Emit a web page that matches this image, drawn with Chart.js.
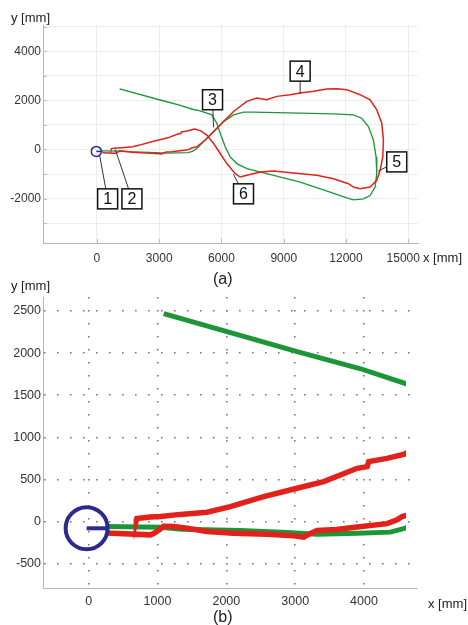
<!DOCTYPE html>
<html>
<head>
<meta charset="utf-8">
<script src="https://cdn.jsdelivr.net/npm/chart.js@4"></script>
<style>
body { margin: 0; background: #fff; font-family: "Liberation Sans", Arial, sans-serif; }
#wrap { position: relative; width: 468px; height: 625px; overflow: hidden; }
canvas { position: absolute; left: 0; }
.lbl { position: absolute; color: #222; white-space: nowrap; line-height: 1; }
</style>
</head>
<body>
<div id="wrap">
  <canvas id="grafA" style="top:0" width="468" height="270"></canvas>
  <canvas id="grafB" style="top:270px" width="468" height="355"></canvas>
  <div class="lbl" style="left:11px;top:11px;font-size:13px">y [mm]</div>
  <div class="lbl" style="left:423px;top:251px;font-size:13px">x [mm]</div>
  <div class="lbl" style="left:213px;top:271px;font-size:16px">(a)</div>
  <div class="lbl" style="left:11px;top:279px;font-size:13px">y [mm]</div>
  <div class="lbl" style="left:428px;top:597px;font-size:13px">x [mm]</div>
  <div class="lbl" style="left:213px;top:609px;font-size:16px">(b)</div>
</div>
<script>
// gemessene Bahn (rot)
const realX = [266, 896, 950, 1040, 1090, 1235, 1429, 1719, 2107, 2591, 2979, 3124, 3200, 3318, 3600, 3900, 4335, 4481, 4554, 4602,
  4815, 5216, 5618, 6099, 6581, 7223, 7704, 8186, 8667, 9309, 9791, 10433, 11075, 11557, 12038, 12680, 13162, 13483, 13724, 13804,
  13772, 13644, 13483, 13162, 12680, 12359, 12118, 11396, 10593, 9470, 8507, 7865, 7223, 6902, 6661, 6260, 5939, 5618, 5297, 4975,
  4750, 4650, 4590, 4335, 4069, 4045, 3900, 3415, 3027, 2543, 2058, 1719, 1331, 1041, 895, 700, 692];
const realY = [-137, -158, -140, -90, -55, -59, -79, -118, -138, -150, -170, -185, -150, -107, -95, -65, -25, 20, 60, 70,
  110, 383, 725, 1136, 1547, 1958, 2095, 2026, 2163, 2231, 2300, 2368, 2464, 2478, 2437, 2231, 2026, 1615, 1068, 383,
  -301, -849, -1259, -1533, -1602, -1533, -1396, -1191, -1054, -958, -876, -917, -1054, -1122, -986, -575, -164, 246, 589, 767,
  825, 830, 800, 750, 711, 652, 632, 474, 395, 296, 178, 110, 85, 60, 55, 35, 12];

// geplante Bahn (gruen)
const planX = [266, 1041, 1357, 2204, 2882, 3318, 3900, 4384, 4602, 4815, 4975, 5297, 5698, 6099, 6581, 7063, 7544, 9791, 11396, 12359,
  12760, 13081, 13322, 13450, 13483, 13403, 13162, 12840, 12359, 12038, 11235, 9791, 8186, 7223, 6741, 6420, 6179, 5939, 5778, 5537,
  4975, 4602, 3938, 3042, 1090];
const planY = [-59, -67, -91, -107, -130, -150, -138, -126, -79, 40, 178, 452, 794, 1136, 1410, 1520, 1520, 1478, 1451, 1410,
  1273, 931, 383, -301, -986, -1533, -1876, -2012, -2054, -1971, -1739, -1328, -986, -780, -575, -301, 110, 657, 1068, 1410,
  1574, 1639, 1817, 2015, 2469];

// Roboter (Kreis + Richtung)
const robotX = [-30, 280];
const robotY = [-80, -80];

// Achsen
const ticksAX = [0, 3000, 6000, 9000, 12000, 15000];
const ticksAY = [-3000, -2000, -1000, 0, 1000, 2000, 3000, 4000, 5000];
const labelsAY = [-2000, 0, 2000, 4000];
const ticksBX = [0, 1000, 2000, 3000, 4000];
const ticksBY = [-500, 0, 500, 1000, 1500, 2000, 2500];

// Markierungen 1..6 (Kasten und Zielpunkt)
const boxLabels = ['1', '2', '3', '4', '5', '6'];
const boxX = [514, 1685, 5569, 9791, 14445, 7062];
const boxY = [-2012, -2012, 2026, 3190, -507, -1807];
const tipX = [128, 883, 5618, 9791, 13562, 6581];
const tipY = [-233, 0, 904, 2259, -876, -1013];

const rot = '#e2211b';
const gruen = '#1d9638';
const blau = '#2b2a8e';

function punkte(xs, ys) {
    let lista = [];
    for (let i = 0; i < xs.length; i++) {
        lista.push({x: xs[i], y: ys[i]});
    }
    return lista;
}

// kleine Striche nach innen (wie im Original)
const innenTicks = {
    id: 'innenTicks',
    beforeDatasetsDraw(chart) {
        const ctx = chart.ctx, a = chart.chartArea;
        ctx.save();
        ctx.strokeStyle = '#bbb';
        ctx.lineWidth = 1;
        ctx.beginPath();
        chart.scales.y.ticks.forEach(t => {
            const p = Math.round(chart.scales.y.getPixelForValue(t.value)) + 0.5;
            ctx.moveTo(a.left, p); ctx.lineTo(a.left + 4, p);
        });
        chart.scales.x.ticks.forEach(t => {
            const p = Math.round(chart.scales.x.getPixelForValue(t.value)) + 0.5;
            ctx.moveTo(p, a.bottom); ctx.lineTo(p, a.bottom - 4);
        });
        ctx.stroke();
        ctx.restore();
    }
};

const kaesten = {
    id: 'kaesten',
    afterDatasetsDraw(chart) {
        const ctx = chart.ctx;
        const sx = chart.scales.x, sy = chart.scales.y;
        ctx.save();
        for (let i = 0; i < boxLabels.length; i++) {
            const bx = sx.getPixelForValue(boxX[i]), by = sy.getPixelForValue(boxY[i]);
            const tx = sx.getPixelForValue(tipX[i]), ty = sy.getPixelForValue(tipY[i]);
            ctx.strokeStyle = '#333';
            ctx.lineWidth = 1;
            ctx.beginPath();
            ctx.moveTo(bx, by);
            ctx.lineTo(tx, ty);
            ctx.stroke();
            ctx.fillStyle = '#fff';
            ctx.fillRect(bx - 10, by - 10, 20, 20);
            ctx.lineWidth = 1.5;
            ctx.strokeStyle = '#111';
            ctx.strokeRect(bx - 10, by - 10, 20, 20);
            ctx.fillStyle = '#111';
            ctx.font = '16px "Liberation Sans", Arial, sans-serif';
            ctx.textAlign = 'center';
            ctx.textBaseline = 'middle';
            ctx.fillText(boxLabels[i], bx, by + 1);
        }
        ctx.restore();
    }
};

function datensaetze(breite, kreis, kreisBreite, clip) {
    return [
        { data: punkte(robotX.slice(0, 1), robotY.slice(0, 1)), showLine: false, pointRadius: kreis,
          pointBorderWidth: kreisBreite, borderColor: blau, backgroundColor: 'rgba(0,0,0,0)', order: 0, clip: clip },
        { data: punkte(robotX, robotY), showLine: true, borderColor: blau, borderWidth: kreisBreite,
          pointRadius: 0, order: 1, clip: clip },
        { data: punkte(realX, realY), showLine: true, borderColor: rot, borderWidth: breite,
          pointRadius: 0, order: 2, clip: clip },
        { data: punkte(planX, planY), showLine: true, borderColor: gruen, borderWidth: breite * 0.9,
          pointRadius: 0, order: 3, clip: clip }
    ];
}

new Chart(document.getElementById('grafA'), {
    type: 'scatter',
    data: { datasets: datensaetze(1.5, 5, 1.5, 5) },
    options: {
        responsive: false,
        animation: false,
        events: [],
        plugins: { legend: { display: false }, tooltip: { enabled: false } },
        layout: { padding: { top: 25, right: 50, left: 0, bottom: 0 } },
        scales: {
            x: {
                type: 'linear', min: -2600, max: 15470,
                afterBuildTicks: a => { a.ticks = ticksAX.map(v => ({value: v})); },
                afterFit: a => { a.height = 27; },
                grid: { color: '#ededed', drawTicks: false },
                border: { color: '#b5b5b5' },
                // letzte Beschriftung etwas nach links, damit "x [mm]" Platz hat
                ticks: { padding: 8, color: '#333', font: { size: 12 }, maxRotation: 0,
                    callback: v => v === ticksAX[ticksAX.length - 1] ? String(v) + '   ' : String(v) }
            },
            y: {
                type: 'linear', min: -3810, max: 5070,
                afterBuildTicks: a => { a.ticks = ticksAY.map(v => ({value: v})); },
                afterFit: a => { a.width = 43; },
                grid: { color: '#ededed', drawTicks: false },
                border: { color: '#b5b5b5' },
                ticks: { padding: 2, color: '#333', font: { size: 12 },
                    callback: v => labelsAY.includes(v) ? String(v) : '' }
            }
        }
    },
    plugins: [innenTicks, kaesten]
});

new Chart(document.getElementById('grafB'), {
    type: 'scatter',
    data: { datasets: datensaetze(5.5, 21, 4, { left: 30, top: 5, right: -11, bottom: 5 }) },
    options: {
        responsive: false,
        animation: false,
        events: [],
        plugins: { legend: { display: false }, tooltip: { enabled: false } },
        layout: { padding: { top: 27, right: 51, left: 0, bottom: 0 } },
        scales: {
            x: {
                type: 'linear', min: -664, max: 4770,
                afterBuildTicks: a => { a.ticks = ticksBX.map(v => ({value: v})); },
                afterFit: a => { a.height = 37; },
                grid: { color: '#777', lineWidth: 1.6, drawTicks: false },
                border: { color: '#b5b5b5', dash: [1.6, 11.4] },
                ticks: { padding: 6, color: '#333', font: { size: 12.5 }, callback: v => String(v), maxRotation: 0 }
            },
            y: {
                type: 'linear', min: -789, max: 2666,
                afterBuildTicks: a => { a.ticks = ticksBY.map(v => ({value: v})); },
                afterFit: a => { a.width = 43; },
                grid: { color: '#777', lineWidth: 1.6, drawTicks: false },
                border: { color: '#b5b5b5', dash: [1.6, 11.4] },
                ticks: { padding: 2, color: '#333', font: { size: 12.5 }, callback: v => String(v) }
            }
        }
    }
});
</script>
</body>
</html>
